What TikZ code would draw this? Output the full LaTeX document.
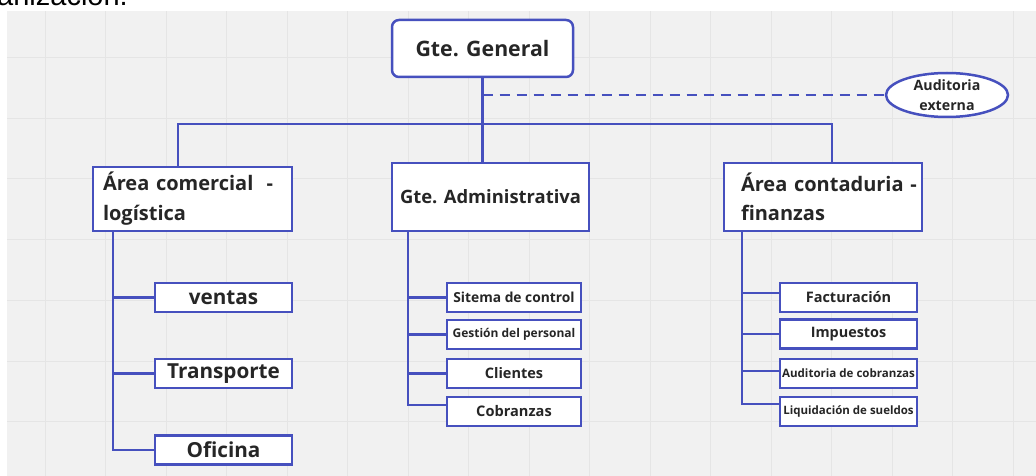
\documentclass[tikz,border=0pt]{standalone}
\usepackage{fontspec}
\setmainfont{Open Sans}
\setsansfont{Liberation Sans}
\usetikzlibrary{shapes.geometric}
\definecolor{chartblue}{RGB}{70,80,190}
\definecolor{ink}{RGB}{38,38,38}
\definecolor{canvas}{RGB}{241,241,241}
\definecolor{gridline}{RGB}{229,229,229}
\newcommand{\fsz}[2]{\fontsize{#1}{#2}\selectfont\bfseries}

\begin{document}
\begin{tikzpicture}[
    x=1pt, y=-1pt,
    box/.style={draw=chartblue, line width=2.5pt, fill=white, text=ink, inner sep=0pt},
    subbox/.style={box, minimum width=136pt, minimum height=29pt},
    areabox/.style={box, align=left, minimum height=66pt},
    wire/.style={draw=chartblue, line width=2.2pt},
  ]
  \useasboundingbox (0,0) rectangle (1036,476);
  \fill[canvas] (7,11) rectangle (1036,476);
  \foreach \gx in {0,...,16}
    \draw[gridline, line width=1pt] (45+60.5*\gx,11) -- (45+60.5*\gx,476);
  \foreach \gy in {0,...,6}
    \draw[gridline, line width=1pt] (7,57.5+60.7*\gy) -- (1036,57.5+60.7*\gy);

  \node[anchor=base west, inner sep=0pt, font=\sffamily\fontsize{29}{29}\selectfont] (title) at (-3,6) {anización.};

  % top
  \node[box, rounded corners=7pt, minimum width=181pt, minimum height=57pt, font=\fsz{21.3}{24}] (gg) at (482.5,48.5) {Gte. General};
  \node[box, ellipse, minimum width=122pt, minimum height=44pt, align=center, font=\fsz{14.2}{20}] (aud) at (947,95) {Auditoria\\externa};

  % areas
  \node[areabox, minimum width=199pt, minimum height=64pt, inner xsep=10pt, text width=179pt, font=\fsz{20}{30}] (ac) at (192.5,199) {\mbox{Área comercial~ -}\\logística};
  \node[box, minimum width=197pt, minimum height=68pt, font=\fsz{18.4}{24}] (ga) at (490.5,197) {Gte. Administrativa};
  \node[areabox, minimum width=198pt, minimum height=68pt, inner xsep=17pt, text width=164pt, font=\fsz{20}{29}] (cf) at (823,197) {\mbox{Área contaduria -}\\finanzas};

  % comercial
  \node[subbox, minimum width=137pt, font=\fsz{20.7}{24}] (ve) at (223.5,297.5) {ventas};
  \node[subbox, minimum width=137pt, font=\fsz{20.7}{24}] (tr) at (223.5,373.5) {Transporte};
  \node[subbox, minimum width=137pt, font=\fsz{20.7}{24}] (of) at (223.5,450) {Oficina};

  % administrativa
  \node[subbox, minimum width=134pt, font=\fsz{13.8}{16}] (si) at (514,297.5) {Sitema de control};
  \node[subbox, minimum width=134pt, font=\fsz{12}{14}] (ge) at (514,334.5) {Gestión del personal};
  \node[subbox, minimum width=134pt, font=\fsz{14.5}{16}] (cl) at (514,373.5) {Clientes};
  \node[subbox, minimum width=134pt, font=\fsz{14.6}{16}] (co) at (514,411.5) {Cobranzas};

  % contaduria
  \node[subbox, minimum width=137pt, font=\fsz{14.5}{16}] (fa) at (848.5,297.5) {Facturación};
  \node[subbox, minimum width=137pt, font=\fsz{14.4}{16}] (im) at (848.5,334) {Impuestos};
  \node[subbox, minimum width=137pt, font=\fsz{11.55}{14}] (au) at (848.5,373.5) {Auditoria de cobranzas};
  \node[subbox, minimum width=137pt, font=\fsz{11.5}{14}] (li) at (848.5,411.5) {Liquidación de sueldos};

  % connectors
  \coordinate (busl) at (178,124);
  \coordinate (busr) at (832,124);
  \draw[wire] (gg.south) -- (gg.south |- ga.north);
  \draw[wire] (busl |- ac.north) -- (busl) -- (busr) -- (busr |- cf.north);
  \draw[wire, line width=2.4pt, dash pattern=on 10pt off 7pt] (gg.south |- aud.west) -- (aud.west);

  \coordinate (sl) at (113,0);
  \coordinate (sm) at (408,0);
  \coordinate (sr) at (742,0);
  \draw[wire] (sl |- ac.south) |- (of.west);
  \draw[wire] (sl |- ve.west) -- (ve.west);
  \draw[wire] (sl |- tr.west) -- (tr.west);

  \draw[wire] (sm |- ga.south) |- ([yshift=6.5pt]co.west);
  \foreach \n in {si,ge,cl}
    \draw[wire] (sm |- \n.west) -- (\n.west);

  \draw[wire] (sr |- cf.south) |- ([yshift=7.5pt]li.west);
  \draw[wire] (sr |- fa.west) ++(0,-4.5) -- ([yshift=4.5pt]fa.west);
  \draw[wire] (sr |- im.west) -- (im.west);
  \draw[wire] (sr |- au.west) ++(0,-2.5) -- ([yshift=2.5pt]au.west);
\end{tikzpicture}
\end{document}
